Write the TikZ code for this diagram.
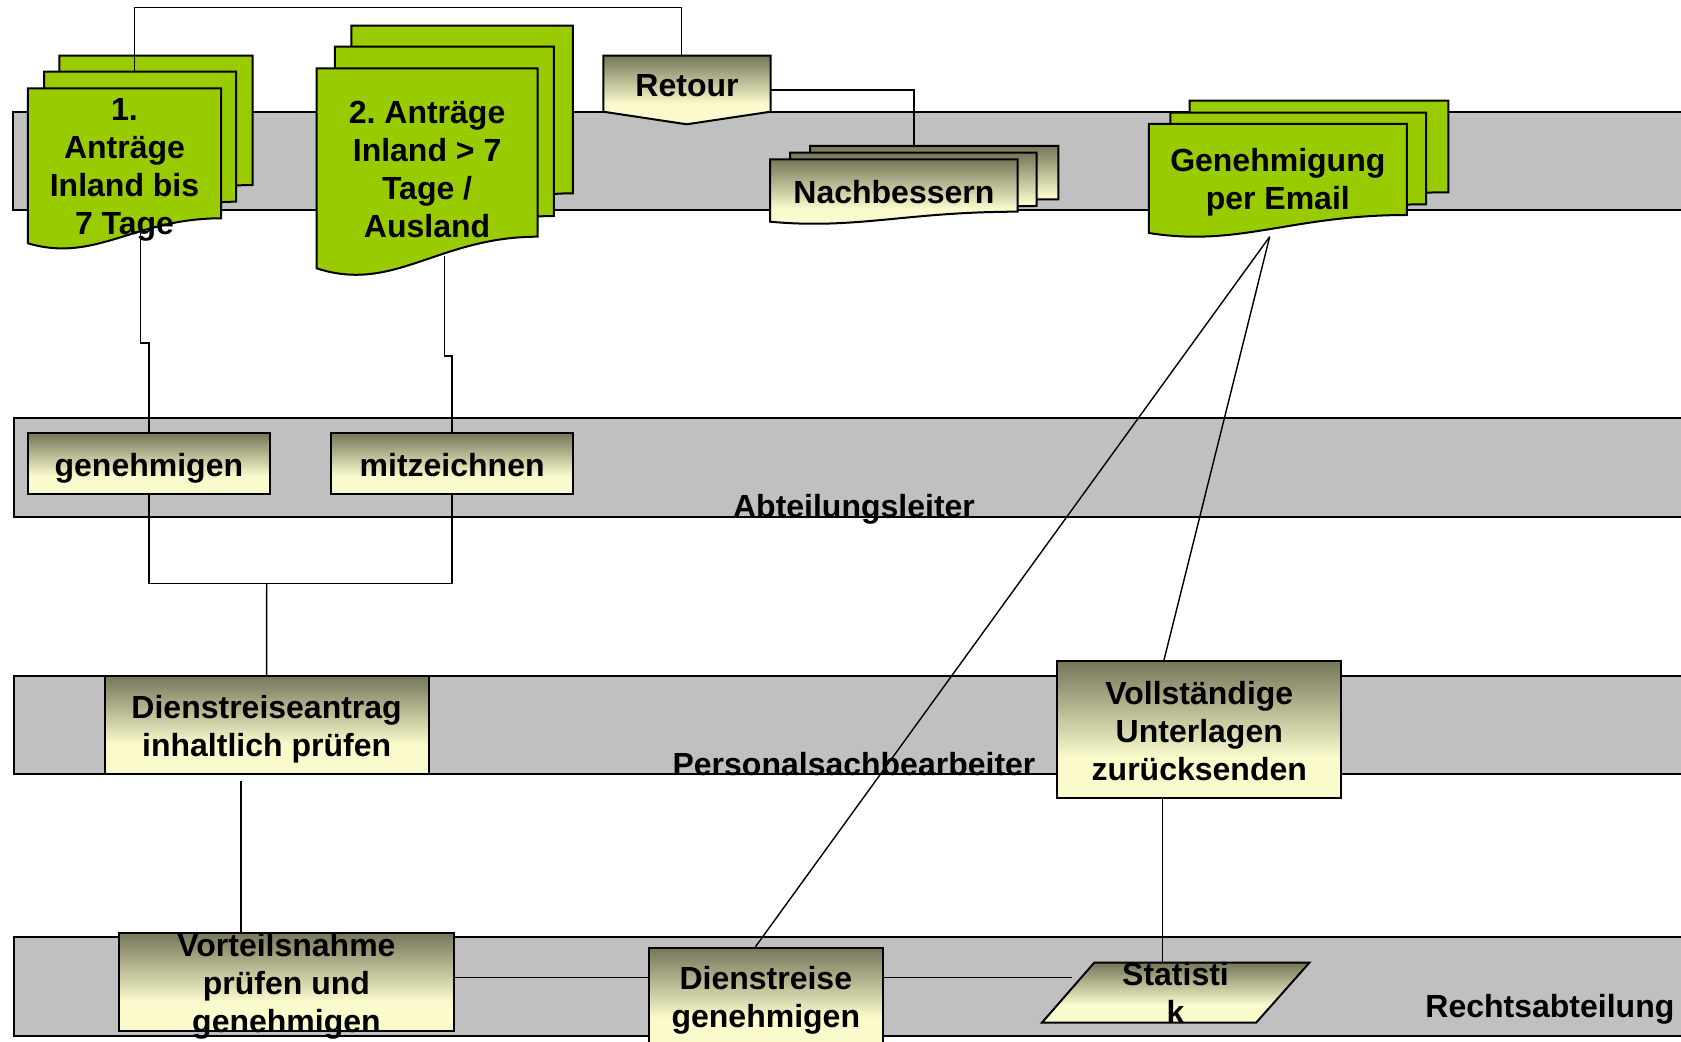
\documentclass[tikz,border=0pt]{standalone}
\usepackage{fontspec}
\setmainfont{Liberation Sans}
\frenchspacing
\definecolor{lanegray}{HTML}{C0C0C0}
\definecolor{docgreen}{HTML}{99CC00}
\definecolor{olivetop}{HTML}{76765A}
\definecolor{paleyel}{HTML}{FAFACC}
\pgfdeclareverticalshading{procshade}{100bp}{color(0bp)=(paleyel); color(25bp)=(paleyel); color(40bp)=(paleyel); color(75bp)=(olivetop); color(100bp)=(olivetop)}
\tikzset{
  every node/.style={font=\fontsize{16}{19}\selectfont\bfseries},
  lane/.style={draw=black, line width=1pt, fill=lanegray},
  procbox/.style={draw=black, line width=1pt, shade, shading=procshade, inner sep=0pt},
  docfill/.style={draw=black, line width=1pt, fill=docgreen},
  paledoc/.style={draw=black, line width=1pt, shade, shading=procshade},
  txt/.style={align=center, inner sep=0pt},
  conn/.style={draw=black, line width=0.7pt},
  lanelabel/.style={inner sep=0pt},
}
% style, x1, ytop, x2, y bottom right, wave height
\newcommand{\docsh}[6]{%
  \path[#1] (#2,#3) -- (#4,#3) -- (#4,#5)
    .. controls ({#2+0.55*(#4-#2)},#5) and ({#2+0.35*(#4-#2)},{#5+1.8*#6}) .. (#2,{#5+#6}) -- cycle;}
\begin{document}
\begin{tikzpicture}[x=0.5pt,y=-0.5pt]
\useasboundingbox (0,0) rectangle (1681,1042);
\clip (0,0) rectangle (1681,1042);
\fill[white] (0,0) rectangle (1681,1042);

% swim lanes
\path[lane] (12.5,111.7) rectangle (1700,210);
\path[lane] (13.5,418.3) rectangle (1700,516.7);
\path[lane] (14,675.5) rectangle (1700,774);
\path[lane] (14,936.5) rectangle (1700,1035.5);

% lane labels
\node[lanelabel] (lblal) at (854,509.2) {Abteilungsleiter};
\node[lanelabel] (lblps) at (854,764) {Personalsachbearbeiter};
\node[lanelabel] (lblra) at (1549.9,1009.2) {Rechtsabteilung};

% document stack 1
\docsh{docfill}{59.3}{55.7}{252.6}{185}{25}
\docsh{docfill}{44}{71.7}{236.1}{201.7}{25}
\docsh{docfill}{27.9}{88.3}{221.2}{218.3}{25}
\node[txt] (d1txt) at (124.5,169.6) {1.\\Anträge\\Inland bis\\7 Tage};

% document stack 2
\docsh{docfill}{351.3}{25.7}{572.9}{193.3}{31.6}
\docsh{docfill}{334.9}{46.7}{553.8}{216}{31.6}
\docsh{docfill}{316.5}{68.3}{537.7}{236.7}{31.6}
\node[txt] (d2txt) at (427.1,169.8) {2. Anträge\\Inland > 7\\Tage /\\Ausland};

% Retour (off-page connector)
\path[paledoc] (603.3,55.7) -- (770.7,55.7) -- (770.7,111.7) -- (686.7,124.3) -- (603.3,111.7) -- cycle;
\node[txt] (ret) at (687,85.8) {Retour};

% Nachbessern stack
\docsh{paledoc}{810}{146}{1058.3}{199.3}{10}
\docsh{paledoc}{790}{152.7}{1036.7}{206}{10}
\docsh{paledoc}{770}{159.3}{1017.7}{211.7}{10}
\node[txt] (nbtxt) at (893.9,191.9) {Nachbessern};

% Genehmigung per Email stack
\docsh{docfill}{1189.7}{100.7}{1448.3}{192.3}{18}
\docsh{docfill}{1170.4}{112.7}{1426}{204.3}{18}
\docsh{docfill}{1148.9}{124}{1406.8}{215}{18}
\node[txt] (gmtxt) at (1277.8,182.2) {Genehmigung\\per Email};

% process boxes
\node[procbox, minimum width=120.95pt, minimum height=30.35pt] (gen) at (148.85,463.65) {};
\node[txt] (gentxt) at (148.85,468.5) {genehmigen};
\node[procbox, minimum width=121.15pt, minimum height=30.35pt] (mitz) at (452.15,463.65) {};
\node[txt] (mitztxt) at (452.15,464.7) {mitzeichnen};
\node[procbox, minimum width=162.15pt, minimum height=49pt] (dra) at (266.65,725) {};
\node[txt] (dratxt) at (266.65,729.3) {Dienstreiseantrag\\inhaltlich prüfen};
\node[procbox, minimum width=141.9pt, minimum height=68.65pt] (voll) at (1199.3,729.65) {};
\node[txt] (volltxt) at (1199.3,730.7) {Vollständige\\Unterlagen\\zurücksenden};
\node[procbox, minimum width=167.05pt, minimum height=49.15pt] (vort) at (286.45,981.85) {};
\node[txt] (vorttxt) at (286.45,986.1) {Vorteilsnahme\\prüfen und\\genehmigen};
\node[procbox, minimum width=117.1pt, minimum height=50.15pt] (dien) at (765.8,997.85) {};
\node[txt] (dientxt) at (765.8,1000.5) {Dienstreise\\genehmigen};

% Statistik (data)
\path[paledoc] (1094.2,962.7) -- (1309.4,962.7) -- (1256.1,1022.7) -- (1041.9,1022.7) -- cycle;
\node[txt] (stat) at (1175.5,993) {Statisti\\k};

% connector points
\coordinate (d1mn) at (134.7,71.7);
\coordinate (topline) at (0,7.3);
\coordinate (retn) at (681.7,55.7);
\coordinate (rete) at (770.7,90);
\coordinate (nbn) at (914,146);
\coordinate (d1s) at (140.5,233);
\coordinate (d1jog) at (0,343);
\coordinate (d2s) at (444.7,256);
\coordinate (d2jog) at (0,356);
\coordinate (join) at (266.7,583.3);
\coordinate (draout) at (241.1,781);
\coordinate (gms) at (1269.7,236.7);
\coordinate (statn) at (1162.4,962.7);
\coordinate (statw) at (1072,977.7);

% connectors
\draw[conn] (d1mn) -- (d1mn |- topline) -| (retn);
\draw[conn] (rete) -| (nbn);
\draw[conn] (d1s) -- (d1s |- d1jog) -| (gen.north);
\draw[conn] (d2s) -- (d2s |- d2jog) -| (mitz.north);
\draw[conn] (gen.south) |- (join) -| (mitz.south);
\draw[conn] (join) -- (dra.north);
\draw[conn] (draout) -- (draout |- vort.north);
\draw[conn] (vort.east |- statw) -- (dien.west |- statw);
\draw[conn] (dien.east |- statw) -- (statw);
\draw[conn] (gms) -- ([xshift=-5.15pt]dien.north);
\draw[conn] (gms) -- ([xshift=-17.65pt]voll.north);
\draw[conn] (statn |- voll.south) -- (statn);
\end{tikzpicture}
\end{document}
